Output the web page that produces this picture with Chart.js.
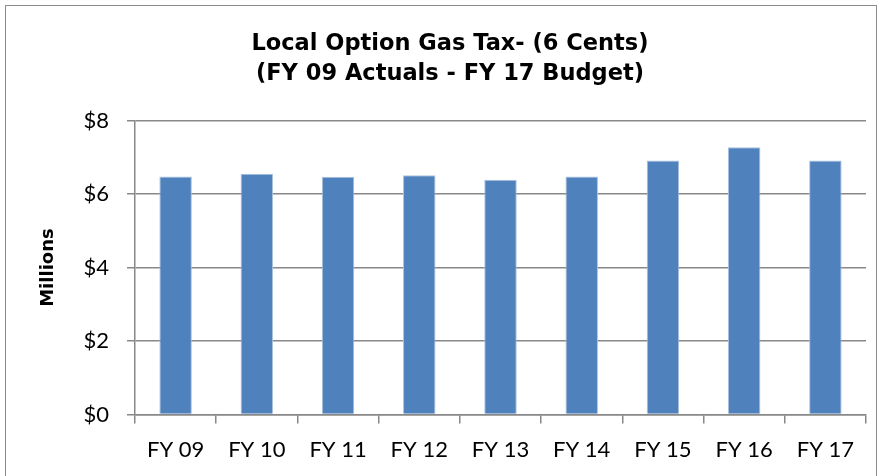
<!DOCTYPE html>
<html>
<head>
<meta charset="utf-8">
<script src="https://cdn.jsdelivr.net/npm/chart.js@4"></script>
<style>
  body { margin: 0; background: #fff; }
  #wrap { position: absolute; left: 0; top: 0; width: 881px; height: 476px; }
  #frame { position: absolute; left: 5px; top: 5px; width: 870px; height: 490px; border: 1px solid #8c8c8c; }
</style>
</head>
<body>
<div id="frame"></div>
<div id="wrap"><canvas id="gasChart" width="881" height="476"></canvas></div>
<script>
const years = ["FY 09", "FY 10", "FY 11", "FY 12", "FY 13", "FY 14", "FY 15", "FY 16", "FY 17"];
const revenue = [6.48, 6.55, 6.47, 6.51, 6.39, 6.48, 6.91, 7.27, 6.91];
const titleLines = ["Local Option Gas Tax- (6 Cents)", "(FY 09 Actuals - FY 17 Budget)"];
const tickFont = "Lato, 'Open Sans', sans-serif";
const boldFont = "'DejaVu Sans', Arial, sans-serif";

const ctx = document.getElementById("gasChart").getContext("2d");
new Chart(ctx, {
  type: "bar",
  data: {
    labels: years,
    datasets: [{
      data: revenue,
      backgroundColor: "#4f81bd",
      borderColor: "#a9c1de",
      borderWidth: 1,
      barPercentage: 0.4,
      categoryPercentage: 1
    }]
  },
  options: {
    responsive: false,
    animation: false,
    layout: { padding: { left: 34, right: 15, top: 0, bottom: 0 } },
    plugins: {
      legend: { display: false },
      tooltip: { enabled: false },
      title: {
        display: true,
        text: titleLines,
        color: "#000",
        font: { family: boldFont, size: 22.5, weight: "bold", lineHeight: 1.3 },
        padding: { top: 30, bottom: 32 }
      }
    },
    scales: {
      x: {
        grid: { display: true, drawOnChartArea: false, tickLength: 9, color: "#888", lineWidth: 1.5 },
        border: { color: "#888", width: 1.5 },
        ticks: { color: "#000", font: { family: tickFont, size: 22 }, padding: 13 }
      },
      y: {
        min: 0,
        max: 8,
        afterFit: s => { s.width = 101; },
        grid: { color: "#888", lineWidth: 1.5, tickLength: 8 },
        border: { color: "#888", width: 1.5 },
        ticks: {
          stepSize: 2,
          color: "#000",
          padding: 18,
          font: { family: tickFont, size: 22 },
          callback: v => "$" + v
        },
        title: {
          display: true,
          text: "Millions",
          color: "#000",
          font: { family: boldFont, size: 18, weight: "bold" }
        }
      }
    }
  }
});
</script>
</body>
</html>
